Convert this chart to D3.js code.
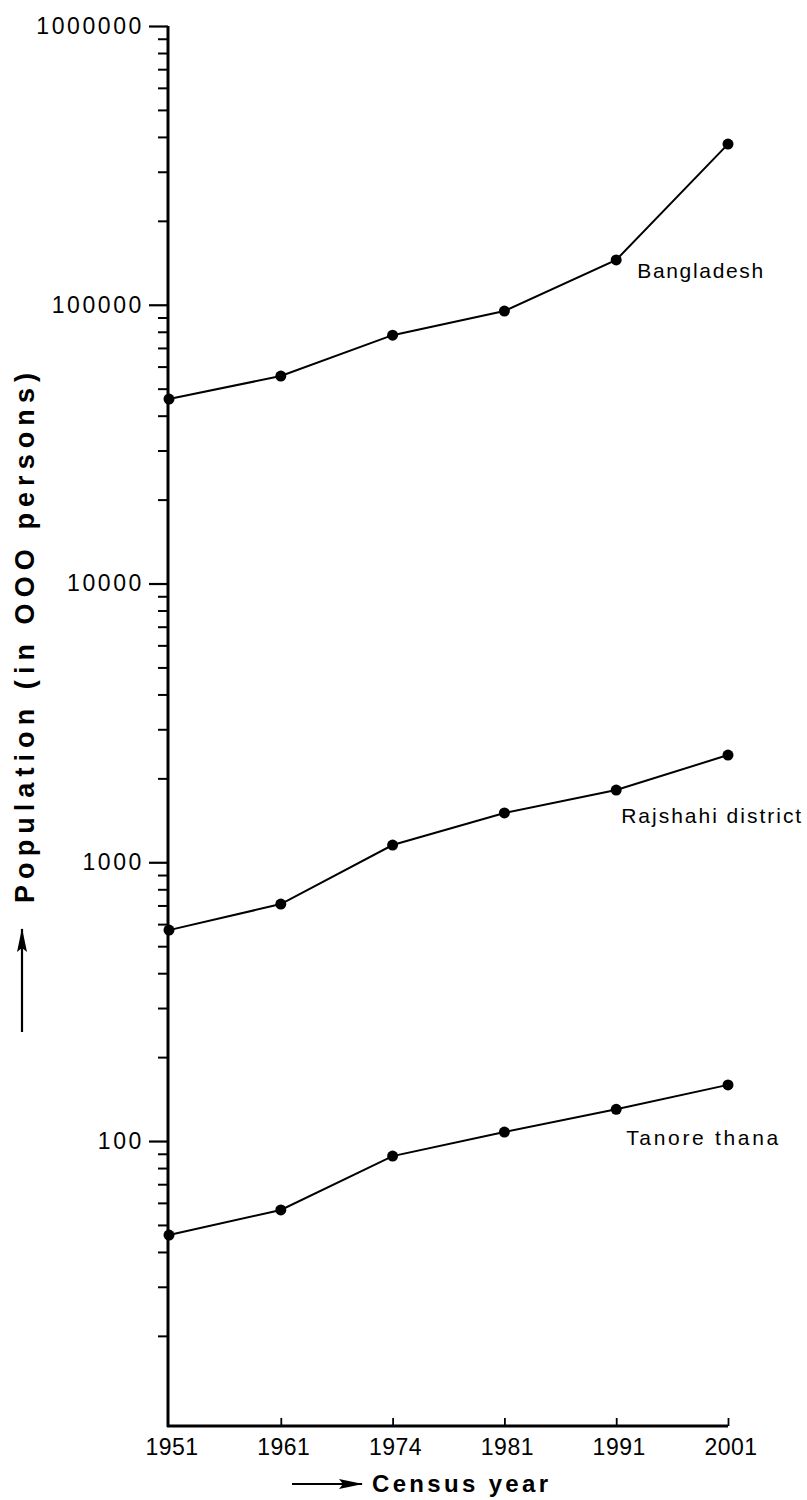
<!DOCTYPE html>
<html>
<head>
<meta charset="utf-8">
<script src="https://cdn.jsdelivr.net/npm/d3@7"></script>
<style>
  html, body { margin: 0; padding: 0; background: #fff; }
  svg { display: block; }
  text { fill: #000; }
</style>
</head>
<body>
<svg id="chart" width="807" height="1500"></svg>
<script>
// ---- data (population in '000 persons) ----
const years = ["1951", "1961", "1974", "1981", "1991", "2001"];
const bangladesh = [45900, 55500, 77800, 94900, 144800, 377000];
const rajshahi   = [571, 708, 1153, 1503, 1816, 2425];
const tanore     = [46, 56.6, 88.3, 107.7, 130, 159];
const seriesNames = ["Bangladesh", "Rajshahi district", "Tanore thana"];
const yMajorTicks = [100, 1000, 10000, 100000, 1000000];
const yTickLabels = ["100", "1000", "10000", "100000", "1000000"];
const yTitle = "Population (in OOO persons)";
const xTitle = "Census year";

const svg = d3.select("#chart");

const x = d3.scalePoint().domain(years).range([169, 728]);
const y = d3.scaleLog().domain([9.5, 1000000]).range([1426, 26]);

const axisX = 168, axisY = 1426;
const FONT = "Liberation Sans, Arial, sans-serif";

// defs: arrowheads
const defs = svg.append("defs");
defs.append("marker").attr("id", "ah").attr("viewBox", "0 0 24 12")
  .attr("refX", 23).attr("refY", 6).attr("markerWidth", 24).attr("markerHeight", 12)
  .attr("markerUnits", "userSpaceOnUse").attr("orient", "auto")
  .append("path").attr("d", "M0,1 L24,6 L0,11 L4,6 Z").attr("fill", "#000");

// ---- y axis (log) ----
const minorTicks = y.ticks(60).filter(v => v >= 19 && !yMajorTicks.includes(v));
const yAxisMinor = d3.axisLeft(y).tickValues(minorTicks).tickSize(10).tickFormat("");
const gMinor = svg.append("g").attr("transform", `translate(${axisX},0)`).call(yAxisMinor);
gMinor.select(".domain").remove();
gMinor.selectAll("line").attr("stroke", "#000").attr("stroke-width", 2);

const yAxisMajor = d3.axisLeft(y).tickValues(yMajorTicks).tickSize(19).tickPadding(5)
  .tickFormat((d, i) => yTickLabels[i]);
const gMajor = svg.append("g").attr("transform", `translate(${axisX},0)`).call(yAxisMajor);
gMajor.select(".domain").remove();
gMajor.selectAll("line").attr("stroke", "#000").attr("stroke-width", 2.2);
gMajor.selectAll("text")
  .attr("font-family", FONT)
  .attr("font-size", 23).attr("letter-spacing", 2.6).attr("fill", "#000");

// ---- x axis ----
const xAxis = d3.axisTop(x).tickSize(8).tickFormat("");
const gx = svg.append("g").attr("transform", `translate(0,${axisY})`).call(xAxis);
gx.select(".domain").remove();
gx.selectAll("line").attr("stroke", "#000").attr("stroke-width", 1.8);
gx.selectAll(".tick").filter(d => d === years[0]).remove();

gx.selectAll(".xlab").data(years).enter().append("text")
  .attr("class", "xlab")
  .attr("x", d => x(d) + 3).attr("y", 29)
  .attr("text-anchor", "middle")
  .attr("font-family", FONT)
  .attr("font-size", 23).attr("letter-spacing", 0.5)
  .text(d => d);

// axis lines
svg.append("line").attr("x1", axisX).attr("x2", axisX).attr("y1", y(1000000)).attr("y2", axisY + 1)
  .attr("stroke", "#000").attr("stroke-width", 3);
svg.append("line").attr("x1", axisX - 1).attr("x2", x(years[years.length - 1])).attr("y1", axisY).attr("y2", axisY)
  .attr("stroke", "#000").attr("stroke-width", 3);

// ---- series ----
const allSeries = [bangladesh, rajshahi, tanore];
const line = d3.line().x((d, i) => x(years[i])).y(d => y(d));
allSeries.forEach(vals => {
  svg.append("path").attr("d", line(vals)).attr("fill", "none")
    .attr("stroke", "#000").attr("stroke-width", 2);
  svg.selectAll(null).data(vals).enter().append("circle")
    .attr("cx", (d, i) => x(years[i])).attr("cy", d => y(d)).attr("r", 5.5).attr("fill", "#000");
});

// series labels (anchored to 1991 point)
const labelOffsets = [[21, 18], [5, 33], [10, 36]];
const labelWidths = [126, 180, 152];
allSeries.forEach((vals, k) => {
  svg.append("text")
    .attr("x", x(years[4]) + labelOffsets[k][0])
    .attr("y", y(vals[4]) + labelOffsets[k][1])
    .attr("font-family", FONT)
    .attr("font-size", 21)
    .attr("textLength", labelWidths[k]).attr("lengthAdjust", "spacing")
    .text(seriesNames[k]);
});

// ---- titles ----
svg.append("text")
  .attr("transform", `translate(34,${638}) rotate(-90)`)
  .attr("text-anchor", "middle")
  .attr("font-family", FONT)
  .attr("font-weight", "bold").attr("font-size", 27)
  .attr("textLength", 530).attr("lengthAdjust", "spacing")
  .text(yTitle);
svg.append("line").attr("x1", 22).attr("x2", 22).attr("y1", 1032).attr("y2", 929)
  .attr("stroke", "#000").attr("stroke-width", 2.2).attr("marker-end", "url(#ah)");

svg.append("text")
  .attr("x", 372).attr("y", 1492)
  .attr("font-family", FONT)
  .attr("font-weight", "bold").attr("font-size", 24)
  .attr("textLength", 176).attr("lengthAdjust", "spacing")
  .text(xTitle);
svg.append("line").attr("x1", 292).attr("x2", 362).attr("y1", 1484).attr("y2", 1484)
  .attr("stroke", "#000").attr("stroke-width", 2.2).attr("marker-end", "url(#ah)");
</script>
</body>
</html>
